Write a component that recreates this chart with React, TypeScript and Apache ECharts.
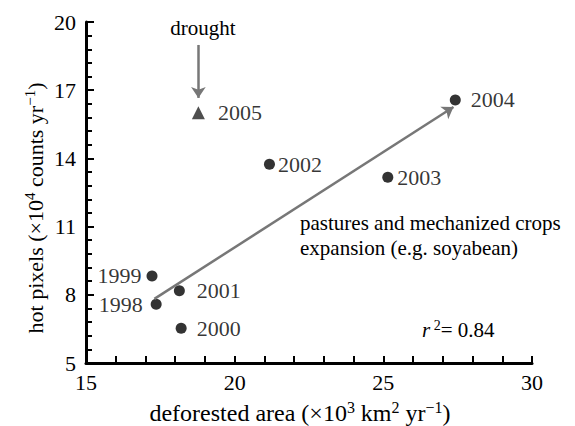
import React, { useEffect, useRef } from "react";
import * as echarts from "echarts";

const years = ["1998", "1999", "2000", "2001", "2002", "2003", "2004", "2005"];
const deforestedArea = [17.36, 17.22, 18.2, 18.14, 21.17, 25.15, 27.42, 18.78];
const hotPixels = [7.58, 8.83, 6.53, 8.18, 13.74, 13.17, 16.57, 16.01];
const trendArrow = [
  [17.3, 7.82],
  [27.36, 16.26],
];
const droughtArrow = [
  [18.78, 18.99],
  [18.78, 16.66],
];
const xRange = { min: 15, max: 30, interval: 5 };
const yRange = { min: 5, max: 20, interval: 3 };

const FONT = "Liberation Serif";

const labelStyle: Record<string, { position: "left" | "right"; distance: number }> = {
  "1998": { position: "left", distance: 8 },
  "1999": { position: "left", distance: 5 },
  "2000": { position: "right", distance: 10 },
  "2001": { position: "right", distance: 12 },
  "2002": { position: "right", distance: 3 },
  "2003": { position: "right", distance: 4 },
  "2004": { position: "right", distance: 10 },
  "2005": { position: "right", distance: 13 },
};

export default function App() {
  const ref = useRef<HTMLDivElement>(null);
  useEffect(() => {
    if (!ref.current) return;
    const chart = echarts.init(ref.current, null, { renderer: "svg" });
    const points = years.map((yr, i) => ({
      name: yr,
      value: [deforestedArea[i], hotPixels[i]],
      symbol: yr === "2005" ? "triangle" : "circle",
      symbolSize: yr === "2005" ? 13 : 11,
      itemStyle: { color: yr === "2005" ? "#222222" : "#000000" },
      label: {
        show: true,
        position: labelStyle[yr].position,
        distance: labelStyle[yr].distance,
        formatter: "{b}",
        fontFamily: FONT,
        fontSize: 22,
        color: "#000",
      },
    }));
    const mk = (size: number) => ({
      n: { fontSize: size, lineHeight: size + 3, fontFamily: FONT, color: "#000", fill: "#000" },
      sup: { fontSize: Math.round(size * 0.68), lineHeight: Math.round(size * 0.68), verticalAlign: "top", fontFamily: FONT, color: "#000", fill: "#000" },
      it: { fontSize: size, lineHeight: size + 3, fontStyle: "italic", fontFamily: FONT, color: "#000", fill: "#000" },
    });
    chart.setOption({
      animation: false,
      grid: { left: 86, right: 43, top: 22, bottom: 63, containLabel: false },
      xAxis: {
        type: "value",
        min: xRange.min,
        max: xRange.max,
        interval: xRange.interval,
        axisLine: { show: true, onZero: false, lineStyle: { color: "#000", width: 3 } },
        axisTick: { show: true, inside: true, length: 7, lineStyle: { color: "#000", width: 2 } },
        minorTick: { show: true, splitNumber: 5, length: 7, lineStyle: { color: "#000", width: 2 } },
        splitLine: { show: false },
        axisLabel: { fontFamily: FONT, fontSize: 22, color: "#000", margin: 8 },
      },
      yAxis: {
        type: "value",
        min: yRange.min,
        max: yRange.max,
        interval: yRange.interval,
        axisLine: { show: true, onZero: false, lineStyle: { color: "#000", width: 3 } },
        axisTick: { show: true, inside: true, length: 8, lineStyle: { color: "#000", width: 2 } },
        minorTick: { show: true, splitNumber: 5, length: 6, lineStyle: { color: "#000", width: 2 } },
        splitLine: { show: false },
        axisLabel: { fontFamily: FONT, fontSize: 22, color: "#000", margin: 10 },
      },
      series: [
        {
          type: "scatter",
          data: points,
          emphasis: { disabled: true },
          markLine: {
            silent: true,
            symbol: ["none", "arrow"],
            symbolSize: 11,
            label: { show: false },
            emphasis: { disabled: true },
            lineStyle: { color: "#777777", width: 2.5, type: "solid" },
            data: [
              [{ coord: trendArrow[0] }, { coord: trendArrow[1] }],
              [{ coord: droughtArrow[0] }, { coord: droughtArrow[1] }],
            ],
          },
        },
      ],
      graphic: [
        {
          type: "text",
          x: 203,
          y: 28,
          style: { text: "drought", fontFamily: FONT, fontSize: 21, fill: "#000", align: "center", verticalAlign: "middle", textAlign: "center", textVerticalAlign: "middle" },
        },
        {
          type: "text",
          x: 300,
          y: 223,
          style: { text: "pastures and mechanized crops", fontFamily: FONT, fontSize: 21, fill: "#000", align: "left", verticalAlign: "middle", textAlign: "left", textVerticalAlign: "middle" },
        },
        {
          type: "text",
          x: 300,
          y: 248,
          style: { text: "expansion (e.g. soyabean)", fontFamily: FONT, fontSize: 21, fill: "#000", align: "left", verticalAlign: "middle", textAlign: "left", textVerticalAlign: "middle" },
        },
        {
          type: "text",
          x: 422,
          y: 330,
          style: {
            text: "{it|r}{sup| 2}{n|= 0.84}",
            rich: mk(21),
            align: "left",
            verticalAlign: "middle",
            textAlign: "left",
            textVerticalAlign: "middle",
          },
        },
        {
          type: "text",
          x: 300,
          y: 413,
          style: {
            text: "{n|deforested area (×10}{sup|3}{n| km}{sup|2}{n| yr}{sup|−1}{n|)}",
            rich: mk(24),
            align: "center",
            verticalAlign: "middle",
            textAlign: "center",
            textVerticalAlign: "middle",
          },
        },
        {
          type: "text",
          x: 35,
          y: 208,
          rotation: Math.PI / 2,
          style: {
            text: "{n|hot pixels (×10}{sup|4}{n| counts yr}{sup|−1}{n|)}",
            rich: mk(22),
            align: "center",
            verticalAlign: "middle",
            textAlign: "center",
            textVerticalAlign: "middle",
          },
        },
      ],
    });
    return () => chart.dispose();
  }, []);
  return <div ref={ref} style={{ position: "absolute", left: 0, top: 0, width: 575, height: 426 }} />;
}
